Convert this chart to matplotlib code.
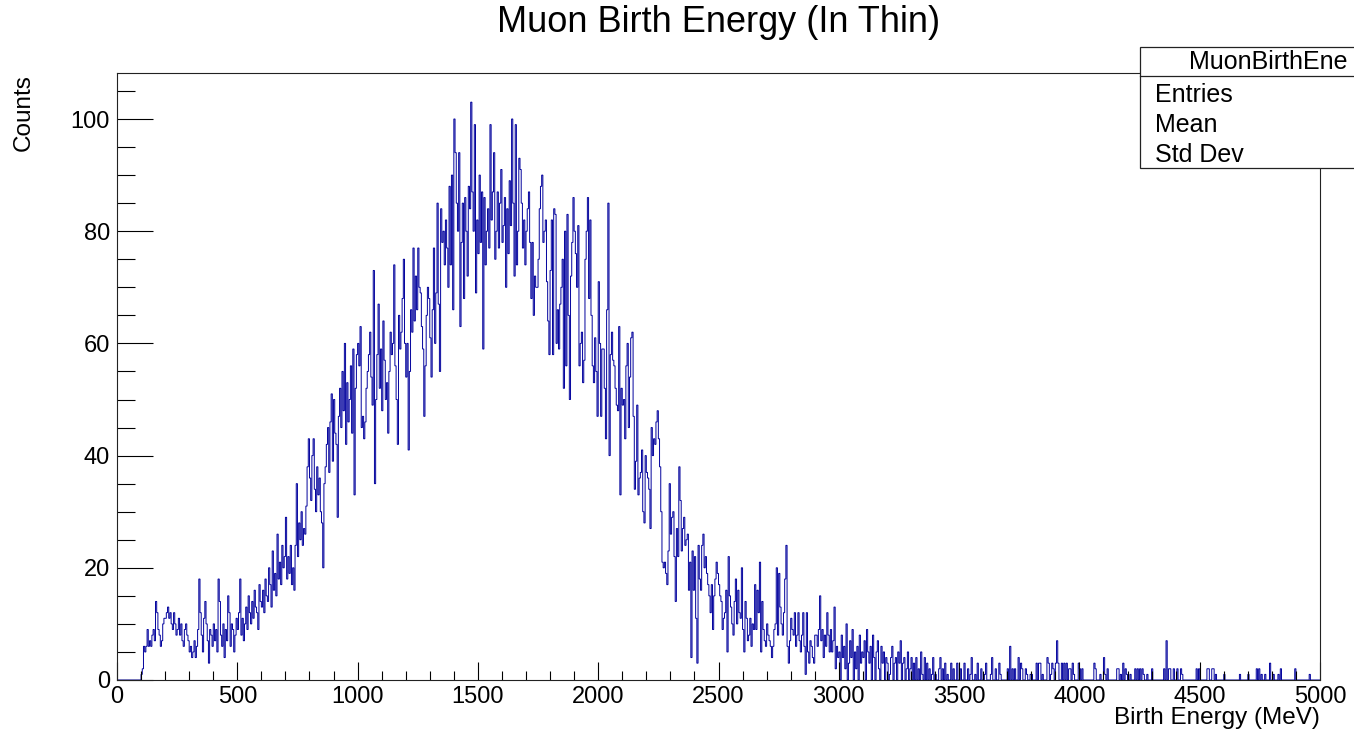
import numpy as np
import matplotlib
matplotlib.use("Agg")
import matplotlib.pyplot as plt
import matplotlib.patches as mpatches
from matplotlib.ticker import MultipleLocator

plt.rcParams["font.family"] = ["Liberation Sans", "DejaVu Sans"]

# ── data: 1000 bins of 5 MeV, 0-5000 MeV ─────────────────────────────────────
e_min, e_max, n_bins = 0, 5000, 1000

counts_0_1000 = [
    0, 0, 0, 0, 0, 0, 0, 0, 0, 0, 0, 0, 0, 0, 0, 0, 0, 0, 0, 0,
    1, 2, 6, 5, 6, 9, 6, 7, 6, 8, 9, 7, 14, 12, 9, 8, 6, 7, 10, 11,
    11, 12, 13, 11, 12, 10, 9, 12, 10, 8, 9, 11, 8, 10, 7, 6, 9, 10, 8, 7,
    5, 6, 4, 5, 7, 4, 6, 9, 18, 12, 8, 5, 11, 14, 10, 7, 3, 9, 8, 6,
    10, 7, 9, 5, 18, 14, 8, 6, 10, 4, 9, 7, 15, 12, 6, 10, 9, 5, 8, 11,
    9, 12, 18, 8, 11, 7, 10, 13, 9, 15, 12, 10, 14, 11, 16, 13, 12, 9, 17, 14,
    13, 16, 12, 18, 15, 14, 20, 17, 13, 23, 16, 19, 15, 26, 18, 21, 17, 24, 20, 22,
    29, 18, 22, 19, 24, 17, 20, 16, 24, 35, 22, 28, 25, 30, 24, 27, 26, 31, 38, 43,
    36, 32, 40, 43, 34, 30, 38, 33, 36, 30, 28, 20, 35, 38, 42, 45, 37, 46, 51, 39,
    50, 44, 42, 29, 47, 52, 45, 55, 48, 60, 42, 53, 46, 50, 56, 44, 59, 33, 52, 58,
]
counts_1000_2000 = [
    60, 56, 63, 45, 47, 43, 46, 52, 55, 58, 62, 54, 49, 73, 35, 50, 58, 67, 52, 59,
    48, 64, 57, 50, 53, 44, 55, 62, 58, 60, 74, 56, 50, 42, 65, 59, 62, 68, 75, 60,
    54, 60, 41, 55, 66, 62, 77, 64, 72, 66, 77, 70, 69, 63, 59, 47, 56, 65, 70, 68,
    61, 54, 66, 77, 60, 69, 85, 67, 55, 84, 78, 80, 74, 82, 77, 70, 88, 74, 90, 66,
    100, 94, 85, 80, 94, 63, 78, 85, 68, 86, 80, 72, 88, 84, 103, 87, 80, 99, 69, 82,
    76, 90, 78, 87, 59, 86, 74, 80, 84, 77, 99, 82, 87, 94, 75, 80, 87, 77, 85, 91,
    78, 81, 86, 70, 84, 76, 89, 81, 100, 85, 72, 99, 74, 80, 93, 91, 85, 77, 82, 74,
    80, 84, 87, 78, 68, 78, 65, 72, 70, 70, 75, 84, 88, 90, 78, 80, 82, 71, 64, 58,
    73, 82, 58, 84, 83, 60, 66, 59, 67, 70, 75, 52, 80, 56, 83, 65, 50, 72, 78, 86,
    80, 76, 70, 81, 56, 60, 62, 53, 57, 75, 80, 86, 68, 82, 65, 56, 53, 61, 55, 47,
]
counts_2000_3000 = [
    71, 60, 47, 59, 59, 52, 43, 66, 85, 40, 58, 62, 57, 56, 52, 49, 48, 63, 33, 52,
    49, 50, 43, 56, 60, 45, 54, 61, 62, 47, 34, 39, 49, 33, 36, 37, 41, 30, 28, 40,
    37, 36, 34, 27, 45, 40, 43, 42, 46, 48, 43, 38, 30, 21, 20, 21, 19, 17, 23, 35,
    26, 29, 30, 22, 14, 27, 22, 38, 32, 23, 27, 29, 24, 25, 26, 16, 21, 4, 23, 16,
    22, 11, 3, 24, 18, 16, 24, 26, 20, 22, 19, 17, 15, 12, 17, 9, 15, 18, 21, 19,
    17, 15, 14, 9, 11, 12, 16, 5, 22, 15, 13, 10, 8, 14, 18, 10, 16, 12, 11, 20,
    9, 5, 14, 11, 7, 8, 11, 6, 10, 9, 17, 9, 16, 12, 21, 5, 14, 9, 7, 6,
    10, 8, 7, 6, 4, 6, 9, 10, 20, 8, 19, 13, 10, 8, 12, 18, 24, 6, 3, 7,
    11, 9, 8, 12, 6, 8, 12, 7, 5, 8, 12, 6, 1, 12, 5, 3, 7, 6, 4, 3,
    8, 8, 6, 9, 15, 7, 9, 4, 8, 6, 12, 8, 5, 9, 5, 7, 13, 2, 6, 4,
]
counts_3000_4000 = [
    5, 0, 8, 4, 6, 2, 10, 0, 3, 7, 4, 9, 0, 5, 2, 6, 0, 8, 3, 5,
    4, 7, 0, 9, 5, 3, 6, 0, 8, 4, 0, 5, 7, 2, 0, 6, 3, 5, 0, 4,
    3, 0, 1, 4, 6, 0, 3, 4, 0, 5, 3, 7, 0, 3, 4, 0, 2, 5, 0, 2,
    4, 0, 3, 0, 4, 0, 2, 0, 5, 1, 0, 4, 0, 3, 0, 2, 0, 1, 4, 0,
    1, 0, 0, 2, 4, 0, 2, 0, 3, 0, 1, 0, 0, 3, 0, 2, 0, 0, 3, 0,
    0, 2, 0, 0, 3, 0, 0, 2, 0, 1, 4, 0, 0, 1, 0, 3, 0, 0, 2, 0,
    0, 1, 3, 0, 0, 0, 1, 4, 0, 0, 2, 0, 0, 3, 1, 0, 0, 0, 0, 0,
    2, 0, 6, 0, 2, 0, 2, 0, 0, 4, 0, 3, 2, 0, 0, 2, 1, 0, 0, 1,
    1, 0, 0, 0, 3, 0, 3, 3, 0, 1, 0, 0, 0, 4, 3, 0, 1, 3, 2, 0,
    3, 7, 3, 0, 0, 3, 0, 3, 0, 3, 0, 2, 2, 0, 3, 1, 0, 0, 0, 3,
]
counts_4000_5000 = [
    2, 0, 2, 0, 0, 0, 0, 0, 0, 0, 0, 0, 3, 2, 0, 0, 0, 1, 0, 0,
    4, 1, 0, 2, 0, 0, 0, 0, 0, 0, 0, 2, 2, 0, 1, 0, 3, 0, 2, 1,
    0, 0, 1, 0, 0, 0, 2, 0, 2, 0, 2, 0, 2, 1, 0, 0, 1, 0, 0, 0,
    2, 0, 0, 0, 0, 0, 0, 0, 0, 0, 2, 0, 7, 0, 2, 2, 0, 0, 2, 0,
    0, 2, 0, 0, 2, 1, 0, 0, 0, 0, 0, 0, 0, 0, 0, 0, 0, 2, 0, 2,
    0, 0, 0, 0, 0, 0, 2, 2, 0, 0, 2, 2, 0, 1, 0, 0, 0, 0, 0, 0,
    1, 0, 0, 0, 0, 0, 0, 0, 0, 0, 0, 0, 0, 1, 0, 0, 0, 0, 0, 0,
    1, 0, 0, 0, 0, 0, 0, 2, 0, 2, 0, 1, 0, 0, 1, 0, 0, 0, 3, 0,
    0, 1, 0, 0, 0, 1, 0, 2, 0, 0, 0, 0, 0, 0, 0, 0, 0, 0, 0, 2,
    0, 0, 0, 0, 0, 0, 0, 0, 0, 0, 0, 1, 0, 0, 0, 0, 0, 0, 0, 0,
]

counts = np.array(counts_0_1000 + counts_1000_2000 + counts_2000_3000
                  + counts_3000_4000 + counts_4000_5000, dtype=float)
edges = np.linspace(e_min, e_max, n_bins + 1)

stat_labels = ["Entries", "Mean", "Std Dev"]

# ── figure ────────────────────────────────────────────────────────────────────
W, H = 1354, 737
fig = plt.figure(figsize=(W / 100, H / 100), dpi=100)
fig.patch.set_facecolor("white")

ax = fig.add_axes([117 / W, 1 - 680 / H, (1320 - 117) / W, (680 - 73) / H])
ax.stairs(counts, edges, color="#00009c", linewidth=0.7, baseline=0)

ax.set_xlim(e_min, e_max)
ax.set_ylim(0, 108.2)

ax.xaxis.set_major_locator(MultipleLocator(500))
ax.xaxis.set_minor_locator(MultipleLocator(100))
ax.yaxis.set_major_locator(MultipleLocator(20))
ax.yaxis.set_minor_locator(MultipleLocator(5))

ax.tick_params(axis="x", which="major", direction="in", length=13, width=0.8,
               labelsize=17, pad=4, top=False)
ax.tick_params(axis="x", which="minor", direction="in", length=6.5, width=0.8,
               top=False)
ax.tick_params(axis="y", which="major", direction="in", length=26, width=0.8,
               labelsize=17, pad=5, right=False)
ax.tick_params(axis="y", which="minor", direction="in", length=13, width=0.8,
               right=False)
for sp in ax.spines.values():
    sp.set_linewidth(0.8)
    sp.set_color("#222222")

# titles
fig.text(719 / W, 1 - 22 / H, "Muon Birth Energy (In Thin)",
         ha="center", va="center", fontsize=26)
fig.text(1320 / W, 1 - 718 / H, "Birth Energy (MeV)",
         ha="right", va="center", fontsize=17.5)
fig.text(24 / W, 1 - 74 / H, "Counts", rotation=90,
         ha="center", va="top", fontsize=17.5)

# stats box (ROOT style, partly off the canvas)
box = mpatches.Rectangle((1140 / W, 1 - 168 / H), (W + 20 - 1140) / W,
                         (168 - 47) / H, transform=fig.transFigure,
                         facecolor="white", edgecolor="#222222",
                         linewidth=0.9, zorder=5, clip_on=False)
fig.add_artist(box)
fig.add_artist(plt.Line2D([1140 / W, 1.02], [1 - 76 / H, 1 - 76 / H],
                          transform=fig.transFigure, color="#222222",
                          linewidth=0.9, zorder=6))
fig.text(1189 / W, 1 - 62 / H, "MuonBirthEne", ha="left", va="center",
         fontsize=18, zorder=7)
for i, lab in enumerate(stat_labels):
    fig.text(1155 / W, 1 - (95 + 30 * i) / H, lab, ha="left", va="center",
             fontsize=18, zorder=7)

fig.savefig("out.png", dpi=100, facecolor="white")
plt.close(fig)
